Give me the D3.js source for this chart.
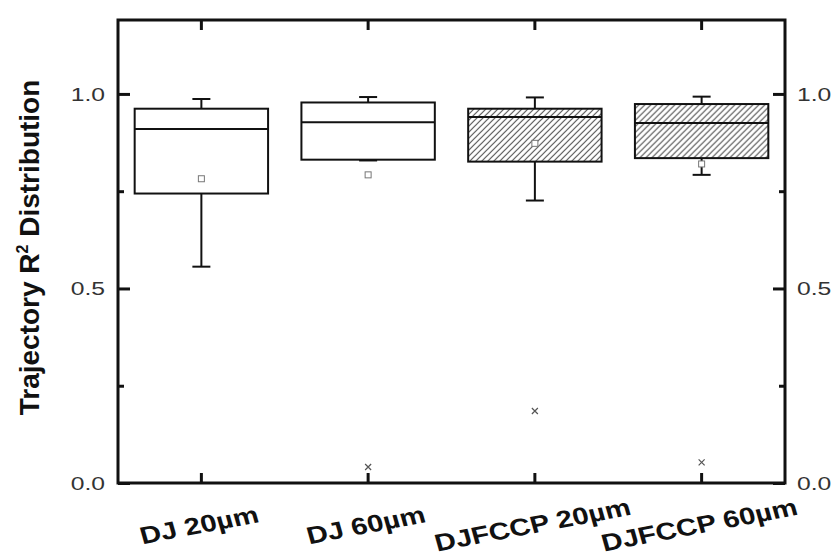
<!DOCTYPE html>
<html>
<head>
<meta charset="utf-8">
<script src="https://cdn.jsdelivr.net/npm/d3@7"></script>
<style>
  body { margin: 0; background: #fff; }
  text { font-family: "Liberation Sans", Arial, sans-serif; }
</style>
</head>
<body>
<svg id="chart" width="837" height="559"></svg>
<script>
// box plot values
const categories = ["DJ 20µm", "DJ 60µm", "DJFCCP 20µm", "DJFCCP 60µm"];
const whiskerLow = [0.556, 0.829, 0.726, 0.792];
const q1 = [0.744, 0.831, 0.826, 0.835];
const median = [0.910, 0.927, 0.941, 0.925];
const q3 = [0.962, 0.978, 0.962, 0.974];
const whiskerHigh = [0.987, 0.992, 0.991, 0.993];
const means = [0.782, 0.792, 0.873, 0.820];
const outliers = [[], [0.041], [0.185], [0.053]];
const hatched = [false, false, true, true];
const majorTicks = [0, 0.5, 1.0];
const minorTicks = [0.25, 0.75];

const margin = { top: 20, left: 118, bottom: 76, right: 52 };
const width = 837;
const height = 559;
// the source figure is a little stretched sideways, text follows that
const stretch = 1.3;

const svg = d3.select("svg#chart");

const x = d3.scaleBand()
    .domain(categories)
    .range([margin.left, width - margin.right]);

const y = d3.scaleLinear()
    .domain([0, 1.19])
    .range([height - margin.bottom, margin.top]);

const boxes = categories.map((c, i) => ({
    name: c, lo: whiskerLow[i], q1: q1[i], med: median[i], q3: q3[i],
    hi: whiskerHigh[i], mean: means[i], out: outliers[i], hatch: hatched[i]
}));

// hatch fill
svg.append("defs").append("pattern")
    .attr("id", "hatch")
    .attr("patternUnits", "userSpaceOnUse")
    .attr("width", 6)
    .attr("height", 6)
    .append("path")
    .attr("d", "M0,6 L6,0 M-1.5,1.5 L1.5,-1.5 M4.5,7.5 L7.5,4.5")
    .attr("stroke", "#555")
    .attr("stroke-width", 1.2);

const boxW = x.bandwidth() * 0.8;
const capW = 18;

const g = svg.selectAll("g.box")
    .data(boxes)
    .join("g")
    .attr("class", "box")
    .attr("transform", d => `translate(${x(d.name) + x.bandwidth() / 2},0)`);

// whiskers
g.append("line")
    .attr("x1", 0).attr("x2", 0)
    .attr("y1", d => y(d.hi)).attr("y2", d => y(d.q3))
    .attr("stroke", "#111").attr("stroke-width", 2);
g.append("line")
    .attr("x1", 0).attr("x2", 0)
    .attr("y1", d => y(d.q1)).attr("y2", d => y(d.lo))
    .attr("stroke", "#111").attr("stroke-width", 2);
g.append("line")
    .attr("x1", -capW / 2).attr("x2", capW / 2)
    .attr("y1", d => y(d.hi)).attr("y2", d => y(d.hi))
    .attr("stroke", "#111").attr("stroke-width", 2);
g.append("line")
    .attr("x1", -capW / 2).attr("x2", capW / 2)
    .attr("y1", d => y(d.lo)).attr("y2", d => y(d.lo))
    .attr("stroke", "#111").attr("stroke-width", 2);

g.append("rect")
    .attr("x", -boxW / 2)
    .attr("width", boxW)
    .attr("y", d => y(d.q3))
    .attr("height", d => y(d.q1) - y(d.q3))
    .attr("fill", d => d.hatch ? "url(#hatch)" : "#fff")
    .attr("stroke", "#111")
    .attr("stroke-width", 2);

g.append("line")
    .attr("x1", -boxW / 2).attr("x2", boxW / 2)
    .attr("y1", d => y(d.med)).attr("y2", d => y(d.med))
    .attr("stroke", "#111").attr("stroke-width", 2);

// mean square
g.append("rect")
    .attr("x", -3).attr("width", 6)
    .attr("y", d => y(d.mean) - 3).attr("height", 6)
    .attr("fill", "#fff")
    .attr("stroke", "#777")
    .attr("stroke-width", 1);

// outliers as small crosses
g.selectAll("path.out")
    .data(d => d.out)
    .join("path")
    .attr("class", "out")
    .attr("d", v => `M-3,${y(v) - 3} L3,${y(v) + 3} M-3,${y(v) + 3} L3,${y(v) - 3}`)
    .attr("stroke", "#555")
    .attr("stroke-width", 1.2);

// axes, ticks inward
const axisStroke = "#111";
const leftAxis = d3.axisRight(y).tickValues(majorTicks).tickSize(12).tickFormat("");
const leftMinor = d3.axisRight(y).tickValues(minorTicks).tickSize(6).tickFormat("");
const rightAxis = d3.axisLeft(y).tickValues(majorTicks).tickSize(12).tickFormat("");
const rightMinor = d3.axisLeft(y).tickValues(minorTicks).tickSize(6).tickFormat("");
const bottomAxis = d3.axisTop(x).tickSize(10).tickFormat("");
const topAxis = d3.axisBottom(x).tickSize(10).tickFormat("");

function styleAxis(sel) {
    sel.select(".domain").remove();
    sel.selectAll(".tick line").attr("stroke", axisStroke).attr("stroke-width", 3);
}

svg.append("g").attr("transform", `translate(${margin.left},0)`).call(leftAxis).call(styleAxis);
svg.append("g").attr("transform", `translate(${margin.left},0)`).call(leftMinor).call(styleAxis);
svg.append("g").attr("transform", `translate(${width - margin.right},0)`).call(rightAxis).call(styleAxis);
svg.append("g").attr("transform", `translate(${width - margin.right},0)`).call(rightMinor).call(styleAxis);
svg.append("g").attr("transform", `translate(0,${height - margin.bottom})`).call(bottomAxis).call(styleAxis);
svg.append("g").attr("transform", `translate(0,${margin.top})`).call(topAxis).call(styleAxis);

// frame
svg.append("rect")
    .attr("x", margin.left)
    .attr("y", margin.top)
    .attr("width", width - margin.left - margin.right)
    .attr("height", height - margin.top - margin.bottom)
    .attr("fill", "none")
    .attr("stroke", axisStroke)
    .attr("stroke-width", 3);

// tick labels
const fmt = d3.format(".1f");
svg.selectAll("text.ylab-left")
    .data(majorTicks)
    .join("text")
    .attr("class", "ylab-left")
    .attr("transform", d => `translate(${margin.left - 13},${y(d)}) scale(${stretch},1)`)
    .attr("dy", "0.35em")
    .attr("text-anchor", "end")
    .attr("font-size", 19)
    .attr("fill", "#333")
    .text(fmt);

svg.selectAll("text.ylab-right")
    .data(majorTicks)
    .join("text")
    .attr("class", "ylab-right")
    .attr("transform", d => `translate(${width - margin.right + 12},${y(d)}) scale(${stretch},1)`)
    .attr("dy", "0.35em")
    .attr("text-anchor", "start")
    .attr("font-size", 19)
    .attr("fill", "#333")
    .text(fmt);

svg.selectAll("text.xlab")
    .data(categories)
    .join("text")
    .attr("class", "xlab")
    .attr("transform", d => `translate(${x(d) + x.bandwidth() / 2},${height - 26}) scale(1.22,1) rotate(-13)`)
    .attr("text-anchor", "middle")
    .attr("font-size", 24)
    .attr("font-weight", "bold")
    .attr("fill", "#111")
    .text(d => d);

// y title
const title = svg.append("text")
    .attr("transform", `translate(39,${(margin.top + height - margin.bottom) / 2 - 4}) rotate(-90)`)
    .attr("text-anchor", "middle")
    .attr("font-size", 28)
    .attr("font-weight", "bold")
    .attr("fill", "#111");
title.append("tspan").text("Trajectory R");
title.append("tspan").attr("font-size", 16).attr("dy", -11).text("2");
title.append("tspan").attr("dy", 11).text(" Distribution");
</script>
</body>
</html>
